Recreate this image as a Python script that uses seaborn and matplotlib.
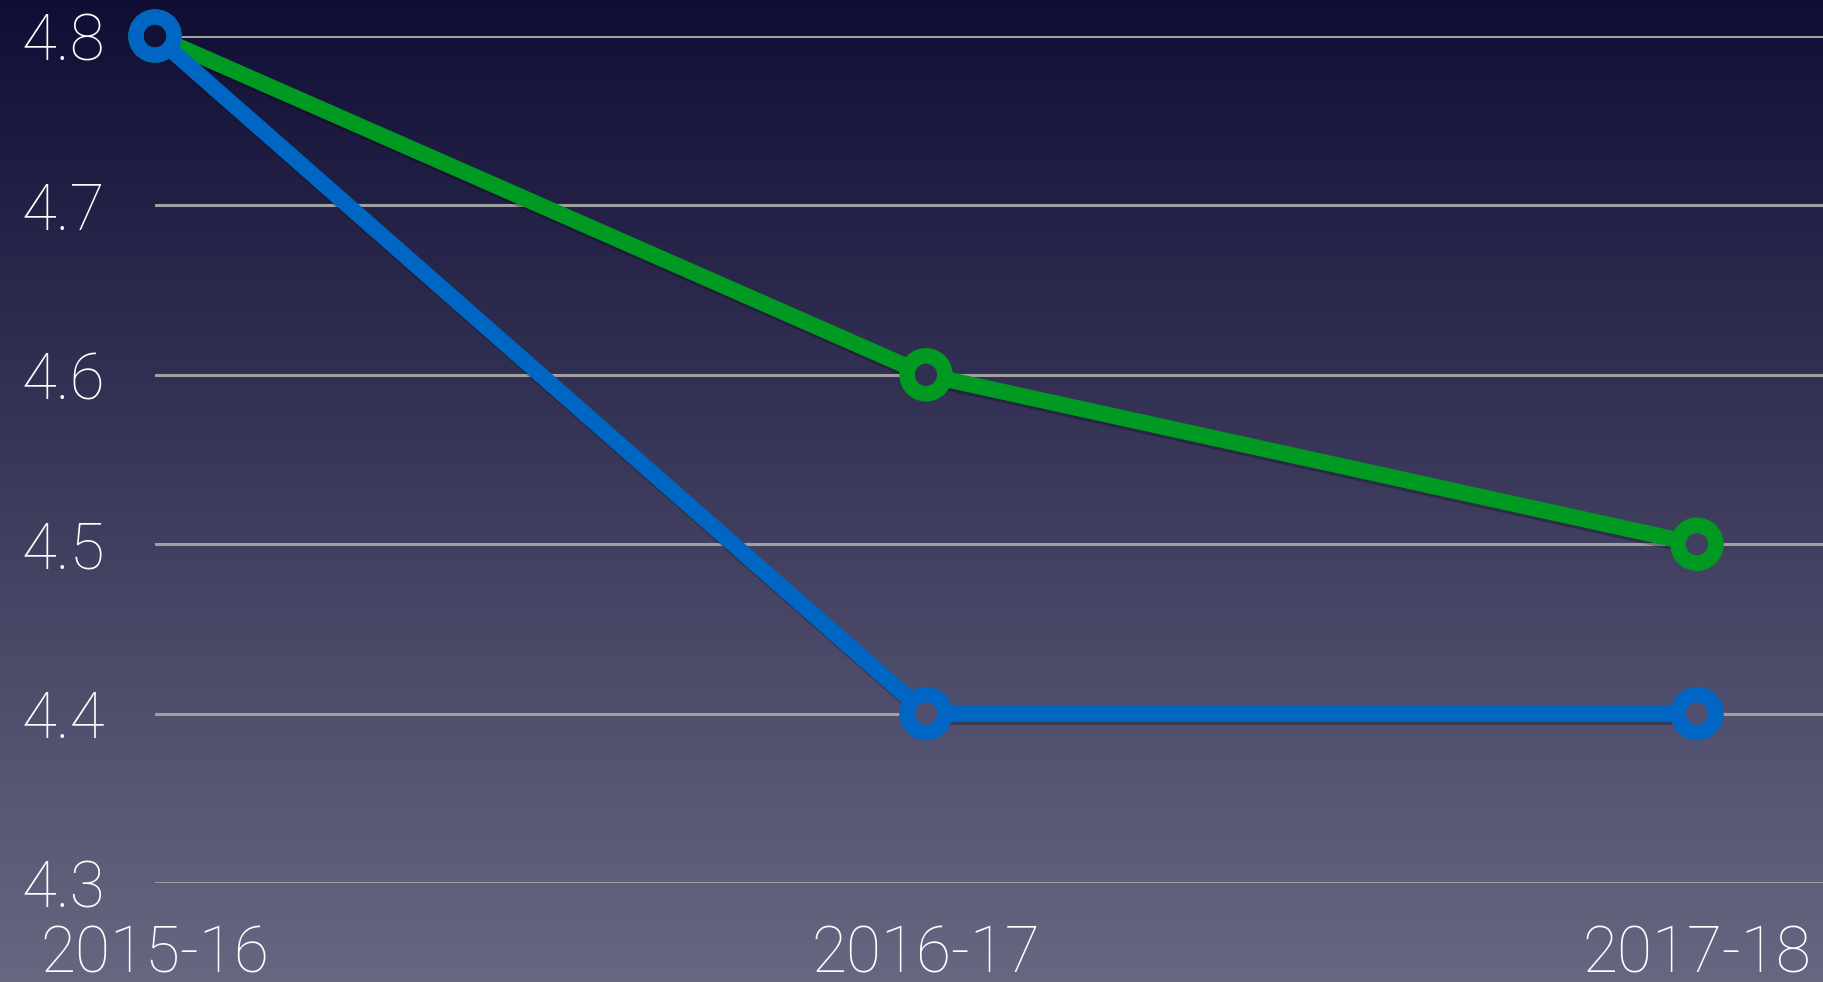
import numpy as np
import pandas as pd
import matplotlib
matplotlib.use("Agg")
import matplotlib.pyplot as plt
import matplotlib.patheffects as pe
from matplotlib.colors import LinearSegmentedColormap
import seaborn as sns

# --- datos ---
periodos = ["2015-16", "2016-17", "2017-18"]
serie_verde = [4.8, 4.6, 4.5]
serie_azul = [4.8, 4.4, 4.4]
y_ticks = [4.3, 4.4, 4.5, 4.6, 4.7, 4.8]

colores = {"verde": "#009a22", "azul": "#0066c4"}
bg_top, bg_bottom = "#100e35", "#686782"

df = pd.DataFrame({
    "x": list(range(len(periodos))) * 2,
    "valor": serie_verde + serie_azul,
    "serie": ["verde"] * len(serie_verde) + ["azul"] * len(serie_azul),
})

sns.set_theme(style="white")
plt.rcParams["font.family"] = ["Roboto", "DejaVu Sans"]

W, H, DPI = 1823, 982, 100
fig = plt.figure(figsize=(W / DPI, H / DPI), dpi=DPI)

# fondo degradado vertical
cmap = LinearSegmentedColormap.from_list("bg", [bg_top, bg_bottom])
bg = fig.add_axes([0, 0, 1, 1], zorder=-10)
bg.imshow(np.linspace(0, 1, 256).reshape(-1, 1), aspect="auto", cmap=cmap,
          extent=[0, 1, 1, 0])
bg.set_axis_off()

left, right = 155 / W, 1.0
bottom, top = 1 - 883 / H, 1 - 36 / H
ax = fig.add_axes([left, bottom, right - left, top - bottom])
ax.set_facecolor("none")

sombra = [pe.SimpleLineShadow(offset=(1.5, -2.5), alpha=0.25, shadow_color="black"), pe.Normal()]

sns.lineplot(data=df, x="x", y="valor", hue="serie", hue_order=["verde", "azul"],
             palette=colores, linewidth=11.5, marker="o", markersize=38.5,
             markeredgewidth=0, legend=False, clip_on=False, ax=ax,
             solid_joinstyle="round", zorder=3)
for ln in ax.lines:
    ln.set_path_effects(sombra)

ax.set_ylim(4.3, 4.8)
ax.set_xlim(0, (W - 155) / ((1697 - 155) / 2))

# agujeros de los marcadores con el color del fondo en esa altura
def color_fondo(v):
    ypix = ax.transData.transform((0, v))[1]
    return cmap(1 - ypix / H)

fig.canvas.draw()
for vals in (serie_verde, serie_azul):
    ax.scatter(range(len(vals)), vals, s=16 ** 2,
               c=[color_fondo(v) for v in vals], linewidths=0,
               zorder=5, clip_on=False)

ax.set_yticks(y_ticks)
ax.set_yticklabels([f"{t:.1f}" for t in y_ticks])
ax.set_xticks(range(len(periodos)))
ax.set_xticklabels(periodos)
ax.grid(axis="y", color="#a0a0a0", linewidth=2.2)
ax.grid(axis="x", visible=False)
ax.set_axisbelow(True)
for s in ax.spines.values():
    s.set_visible(False)
ax.tick_params(axis="y", length=0, pad=36, labelsize=46, labelcolor="white")
ax.tick_params(axis="x", length=0, pad=29, labelsize=46, labelcolor="white")
for lbl in ax.get_xticklabels() + ax.get_yticklabels():
    lbl.set_fontweight("light")
ax.set_xlabel("")
ax.set_ylabel("")

fig.savefig("out.png", dpi=DPI)
